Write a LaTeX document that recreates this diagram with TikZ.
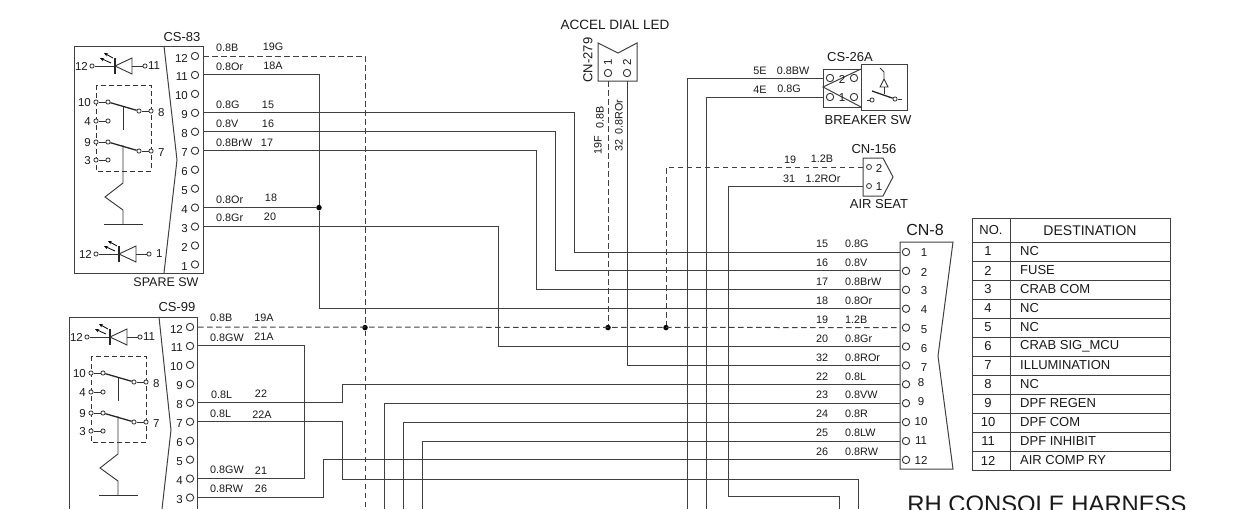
\documentclass[tikz,border=0pt]{standalone}
\usepackage{fontspec}
\setmainfont{Liberation Sans}
\usetikzlibrary{arrows.meta, calc}

\tikzset{
    ledsym/.pic = {
        \node[term] (a) at (-23,0) {};
        \node[term] (c) at (30,0) {};
        \draw[sym] (a) -- (0,0);
        \draw[lever] (0,-8) -- (0,8);
        \draw[sym] (0,0) -- (17,-8) -- (17,8) -- cycle;
        \draw[sym] (17,0) -- (c);
        \draw[ray] (-4,-3) -- (-15,-8);
        \draw[ray] (-2,-8) -- (-11,-13);
    },
    swsym/.pic = {
        \draw[symdash] (96,85) rectangle (151,171);
        % Contacts
        \foreach \y/\t in {102/10, 121/4, 142/9, 160/3} {
            \node[term] (o-\t) at (96,\y) {};
            \node[term] (i-\t) at (108,\y) {};
            \draw[sym] (o-\t) -- (i-\t);
            \node[pinnum, anchor=east] (n-\t) at (91,\y+1) {\t};
        }
        \foreach \y/\t/\s in {111/8/10, 151/7/9} {
            \node[term] (i-\t) at (139,\y) {};
            \node[term] (o-\t) at (151,\y) {};
            \draw[sym] (i-\t) -- (o-\t);
            \draw[lever] (i-\s) -- (i-\t);
            \node[pinnum, anchor=west] (n-\t) at (158,\y+2) {\t};
        }
        % Actuator and spring
        \draw[sym] (123,107) -- (123,130);
        \draw[sym] (123,145) -- (123,183) -- (105,197) -- (123,210) -- (123,224);
        \draw[sym] (104,224) -- (143,224);
    }
}

\begin{document}
\begin{tikzpicture}[
    x = 1pt, y = -1pt,
    pinring/.style = {draw=black!80, circle, line width=0.9pt, inner sep=0pt, minimum size=7.4pt},
    term/.style = {draw=black!80, circle, fill=white, line width=0.8pt, inner sep=0pt, minimum size=4.2pt},
    dot/.style = {circle, fill=black, inner sep=0pt, minimum size=5.5pt},
    sym/.style = {draw=black!80, line width=0.9pt},
    symdash/.style = {sym, dash pattern=on 5pt off 3pt},
    lever/.style = {draw=black!85, line width=1.3pt},
    ray/.style = {draw=black, line width=0.8pt, -{Stealth[length=4pt,width=3.5pt]}},
    box/.style = {draw=black!75, line width=1pt},
    wire/.style = {draw=black!75, line width=1pt},
    wiredash/.style = {wire, dash pattern=on 5.5pt off 3.5pt},
    lab/.style = {inner sep=0pt, text=black!90, font=\fontsize{13}{15}\selectfont},
    pinnum/.style = {lab, font=\fontsize{11.5}{13}\selectfont},
    tag/.style = {lab, font=\fontsize{10.8}{13}\selectfont},
    cell/.style = {lab, font=\fontsize{13}{15}\selectfont},
    ]

    \useasboundingbox (0,0) rectangle (1259,509);
    \clip (0,0) rectangle (1259,509);

    % Free ends at the lower edge
    \foreach \x in {365,384,403,422,687,706,839,858}
        \coordinate (hb-\x) at (\x,509);

    % Switch connectors
    \draw[box] (74,46) rectangle (203,273);
    \draw[box] (164,46) -- (177,160) -- (164,273);
    \draw[box] (69,509) -- (69,317) -- (197,317) -- (197,509);
    \draw[box] (159,317) -- (171,430) -- (162,509);
    \foreach \cs/\px/\py/\first in {cs83/195/56/1, cs99/190/327/3}
        \foreach \n in {\first,...,12} {
            \node[pinring] (\cs-\n) at (\px,{\py+(12-\n)*18.95}) {};
            \coordinate (\cs w-\n) at (\px+8,{\py+(12-\n)*18.95});
            \node[pinnum, anchor=east] (\cs n-\n) at (\px-7,{\py+2+(12-\n)*18.95}) {\n};
        }

    % Switch bodies
    \pic (sa) at (0,0) {swsym};
    \pic (sb) at (-5,271) {swsym};
    \pic (la) at (115,66) {ledsym};
    \pic (lb) at (110,337) {ledsym};
    \pic (lc) at (119,254) {ledsym};
    \node[pinnum, anchor=east] (la-12) at (88,66) {12};
    \node[pinnum, anchor=west] (la-11) at (148,66) {11};
    \node[pinnum, anchor=east] (lb-12) at (83,337) {12};
    \node[pinnum, anchor=west] (lb-11) at (143,337) {11};
    \node[pinnum, anchor=east] (lc-12) at (92,254) {12};
    \node[pinnum, anchor=west] (lc-1) at (156,254) {1};

    % CN-8
    \draw[box] (900,242) -- (953,242) -- (938,356) -- (953,469) -- (900,469) -- cycle;
    \foreach \n/\lx/\ly/\num/\gauge in {
        1/924/253/15/0.8G, 2/924/272/16/0.8V, 3/924/291/17/0.8BrW, 4/924/310/18/0.8Or,
        5/924/330/19/1.2B, 6/924/349/20/0.8Gr, 7/924/368/32/0.8ROr, 8/921/383/22/0.8L,
        9/921/402/23/0.8VW, 10/921/422/24/0.8R, 11/921/441/25/0.8LW, 12/921/460/26/0.8RW} {
        \node[pinring] (cn8-\n) at (906,{252+(\n-1)*18.9}) {};
        \coordinate (cn8w-\n) at (900,{252+(\n-1)*18.9});
        \node[pinnum] (cn8n-\n) at (\lx,\ly) {\n};
        \node[tag] (num-\n) at (822,{244+(\n-1)*18.9}) {\num};
        \node[tag, anchor=west] (gauge-\n) at (845,{244+(\n-1)*18.9}) {\gauge};
    }

    % CN-279
    \draw[box] (598,43) -- (618,53) -- (637,43) -- (637,81) -- (598,81) -- cycle;
    \node[pinring] (cn279-1) at (608,73) {};
    \node[pinring] (cn279-2) at (627,73) {};
    \node[pinnum, rotate=90] (cn279n-1) at (608,62) {1};
    \node[pinnum, rotate=90] (cn279n-2) at (627,62) {2};
    \coordinate (cn279w-1) at (608,81);
    \coordinate (cn279w-2) at (627,81);

    % CS-26A
    \draw[box] (823,69) rectangle (861,107);
    \draw[box] (861,64) rectangle (907,110);
    \draw[box] (861,69) -- (823,87) -- (861,107);
    \node[pinring] (cs26-2) at (830,78) {};
    \node[pinring] (cs26-1) at (830,97) {};
    \node[pinring] (cs26-3) at (854,78) {};
    \node[pinring] (cs26-4) at (854,97) {};
    \node[pinnum] (cs26n-2) at (842,79) {2};
    \node[pinnum] (cs26n-1) at (842,98) {1};
    \coordinate (cs26w-2) at (823,78);
    \coordinate (cs26w-1) at (823,97);
    \node[term] (brk-a) at (872,100) {};
    \node[term] (brk-b) at (895,99) {};
    \draw[sym] (867,100) -- (brk-a) (brk-b) -- (902,99);
    \draw[lever] (872,91) -- (brk-b);
    \draw[sym] (880,68) -- (884,72) -- (884,79) -- (880,87) -- (888,87) -- (884,79);
    \draw[sym] (884,87) -- (884,94);

    % CN-156
    \draw[box] (863,158) -- (883,158) -- (893,177) -- (883,196) -- (863,196) -- cycle;
    \node[term, minimum size=5pt] (cn156-2) at (869,167) {};
    \node[term, minimum size=5pt] (cn156-1) at (869,186) {};
    \node[pinnum] (cn156n-2) at (879,168) {2};
    \node[pinnum] (cn156n-1) at (879,187) {1};
    \coordinate (cn156w-2) at (863,167);
    \coordinate (cn156w-1) at (863,186);

    % Junctions
    \node[dot] (jct-a) at (319,0 |- cs83w-4) {};
    \node[dot] (jct-b) at (365,0 |- cn8w-5) {};
    \node[dot] (jct-c) at (608,0 |- cn8w-5) {};
    \node[dot] (jct-d) at (666,0 |- cn8w-5) {};

    % Wires with one jog
    \foreach \pina/\bendx/\pinb in {cs83w-9/574/cn8w-1, cs83w-8/555/cn8w-2, cs83w-7/536/cn8w-3,
        cs83w-3/498/cn8w-6, cs99w-8/342/cn8w-8, cs99w-3/323/cn8w-12, cs99w-11/304/cs99w-4}
        \draw[wire] (\pina) -| (\bendx,0 |- \pinb) -- (\pinb);

    \draw[wire]
        (cs83w-11) -| (jct-a) |- (cn8w-4)
        (cs83w-4) -- (jct-a)
        (cn8w-9) -| (hb-384)
        (cn8w-10) -| (hb-403)
        (cn8w-11) -| (hb-422)
        (cs26w-2) -| (hb-687)
        (cs26w-1) -| (hb-706)
        (cn279w-2) |- (cn8w-7)
        (cs99w-7) -| (342,479) -| (hb-858)
        (cn156w-1) -| (728,496) -| (hb-839);
    \draw[wiredash] (cs99w-12) -- (cn8w-5);
    \draw[wiredash] (cs83w-12) -| (jct-b) -- (hb-365);
    \draw[wiredash] (cn279w-1) -- (jct-c);
    \draw[wiredash] (cn156w-2) -| (jct-d);

    % Wire tags
    \foreach \txt/\px/\py [count=\i] in {0.8B/216/48, 0.8Or/216/67, 0.8G/216/105, 0.8V/216/124,
        0.8BrW/216/143, 0.8Or/216/200, 0.8Gr/216/218, 0.8B/210/318, 0.8GW/210/338, 0.8L/211/395,
        0.8L/210/414, 0.8GW/210/470, 0.8RW/210/489}
        \node[tag, anchor=west] (gw-\i) at (\px,\py) {\txt};
    \foreach \txt/\px/\py [count=\i] in {19G/273/47, 18A/273/66, 15/268/105, 16/268/124, 17/267/143,
        18/271/198, 20/270/217, 19A/264/318, 21A/264/337, 22/261/394, 22A/262/415, 21/261/471, 26/261/489,
        5E/760/71, 0.8BW/793/71, 4E/760/90, 0.8G/789/89, 19/790/160, 1.2B/822/159, 31/789/179, 1.2ROr/823/179}
        \node[tag] (nw-\i) at (\px,\py) {\txt};
    \node[tag, rotate=90] (t19f) at (598,145) {19F};
    \node[tag, rotate=90] (t08b) at (600,117) {0.8B};
    \node[tag, rotate=90] (t32) at (619,145) {32};
    \node[tag, rotate=90] (t08r) at (619,117) {0.8ROr};

    % Names
    \node[lab] (cs83name) at (182,37) {CS-83};
    \node[lab, font=\fontsize{12.5}{15}\selectfont] (spare) at (166,282) {SPARE SW};
    \node[lab] (cs99name) at (177,307) {CS-99};
    \node[lab, font=\fontsize{13.5}{15}\selectfont] (accel) at (615,25) {ACCEL DIAL LED};
    \node[lab, rotate=90] (cn279name) at (588,60) {CN-279};
    \node[lab] (cs26name) at (850,57) {CS-26A};
    \node[lab] (breaker) at (868,120) {BREAKER SW};
    \node[lab] (cn156name) at (874,149) {CN-156};
    \node[lab] (airseat) at (879,204) {AIR SEAT};
    \node[lab, font=\fontsize{16}{18}\selectfont] (cn8name) at (925,230) {CN-8};
    \node[lab, font=\fontsize{23.8}{26}\selectfont, anchor=base] (title) at (1047,512) {RH CONSOLE HARNESS};

    % Destination table
    \draw[box] (972,218) rectangle (1170,470);
    \draw[box] (1010,218) -- (1010,470);
    \draw[box] (972,242) -- (1170,242);
    \node[cell] (hd-no) at (991,230) {NO.};
    \node[cell, font=\fontsize{14}{16}\selectfont] (hd-dest) at (1090,231) {DESTINATION};
    \foreach \txt [count=\i] in {NC, FUSE, CRAB COM, NC, NC, CRAB SIG\_MCU, ILLUMINATION, NC,
        DPF REGEN, DPF COM, DPF INHIBIT, AIR COMP RY} {
        \draw[box] (972,{242+19*\i}) -- (1170,{242+19*\i});
        \node[cell] (row-no-\i) at (988,{251.5+19*(\i-1)}) {\i};
        \node[cell, anchor=west] (row-\i) at (1020,{251.5+19*(\i-1)}) {\txt};
    }
\end{tikzpicture}
\end{document}
